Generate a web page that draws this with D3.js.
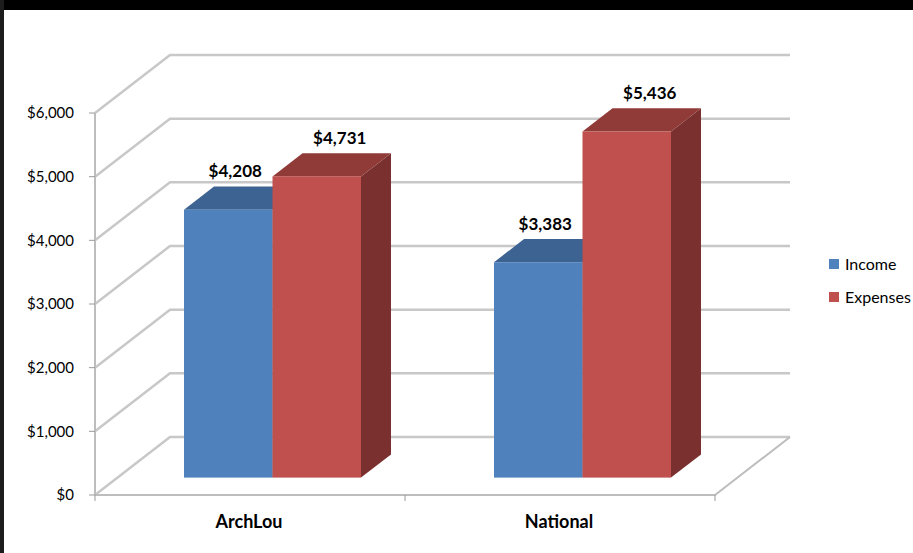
<!doctype html>
<html lang="en">
  <head>
    <meta charset="utf-8">
    <title>Income vs Expenses</title>
    <style>
      html, body { margin: 0; padding: 0; background: #fff; }
      svg { display: block; font-family: Lato, "Open Sans", sans-serif; }
    </style>
  </head>
  <body>
    <div id="main-chart"></div>

    <script src="https://d3js.org/d3.v7.min.js"></script>
    <script>
      // Data
      var categories = ["ArchLou", "National"];
      var seriesNames = ["Income", "Expenses"];
      var incomeValues = [4208, 3383];
      var expenseValues = [4731, 5436];
      var yTicks = [0, 1000, 2000, 3000, 4000, 5000, 6000];

      // Colors: front, top, side
      var colors = {
        Income:   {front: "#4f81bd", top: "#3c6391", side: "#2f4f77"},
        Expenses: {front: "#c0504d", top: "#913b39", side: "#7a302e"}
      };

      var width = 913, height = 553;

      // depth vector for the 3d floor (z = 0 front, z = 1 back wall)
      var depthX = 75, depthY = -58;
      var barZ0 = 0.3, barDepth = 0.4;

      var svg = d3.select("#main-chart")
        .append("svg")
        .attr("width", width)
        .attr("height", height);

      // Frame
      svg.append("rect").attr("x", 0).attr("y", 0).attr("width", width).attr("height", 10).attr("fill", "#000");
      svg.append("rect").attr("x", 0).attr("y", 0).attr("width", 4).attr("height", height).attr("fill", "#1c1c1c");

      // Scales (front plane)
      var x0 = d3.scaleBand()
        .domain(categories)
        .range([95, 715])
        .padding(0);

      var y = d3.scaleLinear()
        .domain([0, 6000])
        .range([495, 113]);

      var groupWidth = 177;
      var x1 = d3.scaleBand()
        .domain(seriesNames)
        .range([0, groupWidth])
        .padding(0);

      var fmt = function(v) { return "$" + d3.format(",")(v); };

      // Gridlines: left wall diagonal + back wall horizontal
      var grid = svg.append("g");
      grid.selectAll("polyline")
        .data(yTicks)
        .enter().append("polyline")
        .attr("points", function(d) {
          var yy = y(d);
          return [[95, yy], [95 + depthX, yy + depthY], [715 + depthX, yy + depthY]].join(" ");
        })
        .attr("fill", "none")
        .attr("stroke", "#c8c8c8")
        .attr("stroke-width", 2.5);

      // Floor front and right edges
      grid.append("polyline")
        .attr("points", [[95, y(0)], [715, y(0)], [715 + depthX, y(0) + depthY]].join(" "))
        .attr("fill", "none")
        .attr("stroke", "#bdbdbd")
        .attr("stroke-width", 2);

      // Y axis
      var yAxis = svg.append("g");
      yAxis.append("line")
        .attr("x1", 95).attr("x2", 95)
        .attr("y1", y(6000)).attr("y2", y(0))
        .attr("stroke", "#bdbdbd").attr("stroke-width", 2);
      yAxis.selectAll("line.tick")
        .data(yTicks)
        .enter().append("line")
        .attr("class", "tick")
        .attr("x1", 89).attr("x2", 95)
        .attr("y1", function(d) { return y(d); })
        .attr("y2", function(d) { return y(d); })
        .attr("stroke", "#9a9a9a").attr("stroke-width", 1);
      yAxis.selectAll("text")
        .data(yTicks)
        .enter().append("text")
        .attr("x", 74)
        .attr("y", function(d) { return y(d); })
        .attr("dy", "0.35em")
        .attr("text-anchor", "end")
        .attr("font-size", "15px")
        .attr("fill", "#000")
        .text(fmt);

      // Category ticks + labels
      var catTicks = [95].concat(categories.map(function(c) { return x0(c) + x0.bandwidth(); }));
      svg.append("g").selectAll("line")
        .data(catTicks)
        .enter().append("line")
        .attr("x1", function(d) { return d; })
        .attr("x2", function(d) { return d; })
        .attr("y1", y(0)).attr("y2", y(0) + 6)
        .attr("stroke", "#9a9a9a").attr("stroke-width", 1);
      svg.append("g").selectAll("text")
        .data(categories)
        .enter().append("text")
        .attr("x", function(d) { return x0(d) + x0.bandwidth() / 2 - 1; })
        .attr("y", 528)
        .attr("text-anchor", "middle")
        .attr("font-size", "18px")
        .attr("font-weight", "bold")
        .text(function(d) { return d; });

      // Bars
      var bars = [];
      categories.forEach(function(c, i) {
        bars.push({cat: c, series: "Income", value: incomeValues[i], labelShift: 7});
        bars.push({cat: c, series: "Expenses", value: expenseValues[i], labelShift: 23});
      });

      var dzX = barDepth * depthX, dzY = barDepth * depthY;

      svg.append("g").selectAll("g")
        .data(bars)
        .enter().append("g")
        .each(function(d) {
          var g = d3.select(this);
          var bx = x0(d.cat) + (x0.bandwidth() - groupWidth) / 2 + x1(d.series) + barZ0 * depthX;
          var bw = x1.bandwidth();
          var yt = y(d.value) + barZ0 * depthY;
          var yb = y(0) + barZ0 * depthY;
          var col = colors[d.series];

          // side
          g.append("polygon")
            .attr("points", [[bx + bw, yt], [bx + bw + dzX, yt + dzY], [bx + bw + dzX, yb + dzY], [bx + bw, yb]].join(" "))
            .attr("fill", col.side);
          // top
          g.append("polygon")
            .attr("points", [[bx, yt], [bx + bw, yt], [bx + bw + dzX, yt + dzY], [bx + dzX, yt + dzY]].join(" "))
            .attr("fill", col.top);
          // front
          g.append("rect")
            .attr("x", bx)
            .attr("y", yt)
            .attr("width", bw)
            .attr("height", yb - yt)
            .attr("fill", col.front);

          // value label
          g.append("text")
            .attr("x", bx + bw / 2 + d.labelShift)
            .attr("y", yt + dzY - 9)
            .attr("text-anchor", "middle")
            .attr("font-size", "17px")
            .attr("font-weight", "bold")
            .text(fmt(d.value));
        });

      // Legend
      var legend = svg.append("g")
        .selectAll("g")
        .data(seriesNames)
        .enter().append("g")
        .attr("transform", function(d, i) { return "translate(829," + (259 + i * 33) + ")"; });
      legend.append("rect")
        .attr("width", 10).attr("height", 10)
        .attr("fill", function(d) { return colors[d].front; });
      legend.append("text")
        .attr("x", 16).attr("y", 5)
        .attr("dy", "0.35em")
        .attr("font-size", "16px")
        .text(function(d) { return d; });
    </script>
  </body>
</html>
